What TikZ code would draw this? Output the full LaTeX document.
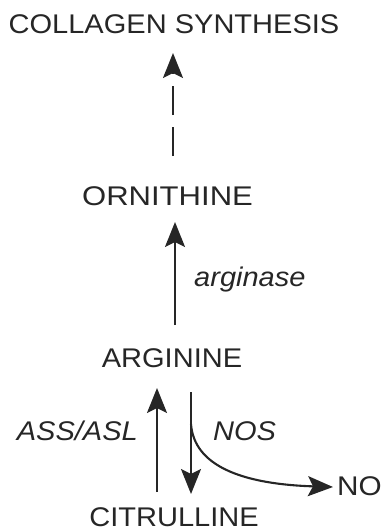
\documentclass[tikz,border=0pt]{standalone}
\usepackage{fontspec}
\setmainfont{Liberation Sans}
\usetikzlibrary{arrows.meta}
\definecolor{ink}{HTML}{262626}
\newcommand{\widetxt}[2][1.075]{\scalebox{#1}[1]{#2}}
\tikzset{
  lbl/.style={inner sep=0pt, text=ink, font=\fontsize{27}{30}\selectfont, anchor=base},
  enz/.style={lbl, font=\fontsize{27}{30}\selectfont\itshape},
  flow/.style={draw=ink, line width=2.1pt, -{Stealth[length=25pt,width=20pt,inset=5pt]}},
}
\begin{document}
\begin{tikzpicture}[x=1pt,y=-1pt]
\useasboundingbox (0,0) rectangle (388,532);
% metabolites
\node[lbl] (col) at (174,34) {\widetxt{COLLAGEN SYNTHESIS}};
\node[lbl] (orn) at (167.5,205) {\widetxt[1.15]{ORNITHINE}};
\node[lbl] (arg) at (172,367) {\widetxt{ARGININE}};
\node[lbl] (cit) at (174,526) {\widetxt{CITRULLINE}};
\node[lbl, anchor=base west] (no) at (337,495) {\widetxt[1.1]{NO}};
% enzymes
\node[enz, anchor=base west] (ase) at (194,286) {\widetxt{arginase}};
\node[enz, anchor=base east] (ass) at (138,440) {\widetxt{ASS/ASL}};
\node[enz, anchor=base west] (nos) at (213,440) {\widetxt{NOS}};
% connector end points
\coordinate (c1) at (173,156);
\coordinate (c2) at (173,53);
\coordinate (o1) at (175,325);
\coordinate (o2) at (175,222);
\coordinate (u1) at (157,492);
\coordinate (u2) at (157,388);
\coordinate (d1) at (191,392);
\coordinate (d2) at (191,494);
\coordinate (n0) at (191,424);
\coordinate (n1) at (333,487);
% ornithine to collagen (dashed)
\draw[flow, dash pattern=on 29pt off 12pt] (c1) -- (c2);
% arginine to ornithine
\draw[flow] (o1) -- (o2);
% citrulline to arginine
\draw[flow] (u1) -- (u2);
% arginine to citrulline
\draw[flow] (d1) -- (d2);
% NO branch
\draw[flow] (n0) .. controls (194,465) and (240,484) .. (n1);
\end{tikzpicture}
\end{document}
